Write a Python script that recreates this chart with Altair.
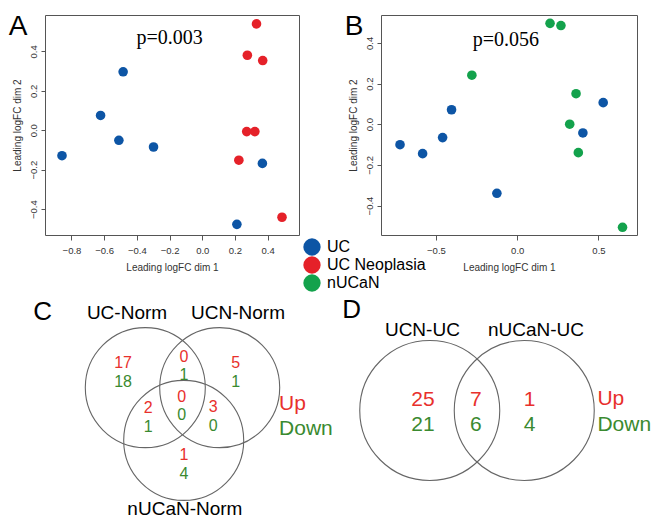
import altair as alt
import pandas as pd

# ---------------- data ----------------
groups = ["UC", "UC Neoplasia", "nUCaN"]
group_colors = ["#0d55a5", "#e52129", "#13a24c"]

# Panel A (UC vs UC Neoplasia)
a_uc_x = [-0.858, -0.622, -0.484, -0.510, -0.298, 0.368, 0.212]
a_uc_y = [-0.129, 0.075, 0.296, -0.051, -0.085, -0.168, -0.477]
a_ucn_x = [0.332, 0.276, 0.370, 0.272, 0.322, 0.224, 0.488]
a_ucn_y = [0.539, 0.380, 0.353, -0.007, -0.007, -0.152, -0.441]
a_p_value = "p=0.003"
a_x_ticks = [-0.8, -0.6, -0.4, -0.2, 0.0, 0.2, 0.4]
a_y_ticks = [-0.4, -0.2, 0.0, 0.2, 0.4]

# Panel B (UC vs nUCaN)
b_uc_x = [-0.721, -0.582, -0.459, -0.404, -0.125, 0.404, 0.529]
b_uc_y = [-0.101, -0.145, -0.066, 0.071, -0.340, -0.043, 0.106]
b_nucan_x = [0.202, 0.269, -0.279, 0.362, 0.323, 0.376, 0.648]
b_nucan_y = [0.496, 0.485, 0.241, 0.150, 0.000, -0.140, -0.507]
b_p_value = "p=0.056"
b_x_ticks = [-0.5, 0.0, 0.5]
b_y_ticks = [-0.4, -0.2, 0.0, 0.2, 0.4]

# Panel C (three-way Venn)
c_sets = ["UC-Norm", "UCN-Norm", "nUCaN-Norm"]
c_up = [17, 0, 5, 0, 2, 3, 1]
c_down = [18, 1, 1, 0, 1, 0, 4]

# Panel D (two-way Venn)
d_sets = ["UCN-UC", "nUCaN-UC"]
d_up = [25, 7, 1]
d_down = [21, 6, 4]

key_labels = ["Up", "Down"]
panel_letters = ["A", "B", "C", "D"]

# ---------------- styling / layout ----------------
FONT = "Liberation Sans"
SERIF = "Liberation Serif"
UP_COLOR = "#e8302c"
DOWN_COLOR = "#3a8a30"
FRAME = "#555555"

WA, WB, H_TOP, H_BOT = 254, 256, 220, 218
COL_GAP, ROW_GAP = 82, 64

# Venn geometry in circle-radius units (y up)
c_k, c_origin = 60, (137.5, 106)
c_circles = [(-0.62, 0.29), (0.62, 0.29), (0.02, -0.59)]
c_regions = [(-0.99, 0.54), (0.025, 0.65), (0.887, 0.54), (-0.013, -0.02),
             (-0.57, -0.21), (0.51, -0.19), (0.025, -0.99)]
c_pair = 0.152
c_set_pos = [(-0.925, 1.44), (0.925, 1.43), (0.04, -1.83)]
c_key = (1.61, 0.02, -0.395)
c_letter = (-2.33, 1.55)

d_k, d_origin = 70, (96, 111.5)
d_circles = [(-0.675, 0.0), (0.675, 0.0)]
d_region_x = [-0.773, -0.018, 0.751]
d_up_y, d_down_y = 0.147, -0.21
d_set_pos = [(-0.78, 1.07), (0.843, 1.07)]
d_key = (1.72, 0.165, -0.207)
d_letter = (-1.79, 1.43)

color_scale = alt.Scale(domain=groups, range=group_colors)
legend = alt.Legend(orient="none", legendX=258, legendY=223, title=None,
                    symbolType="circle", symbolSize=300, symbolStrokeWidth=0,
                    symbolOpacity=1, labelFontSize=16, labelFont=FONT,
                    labelColor="black", labelOffset=6, rowPadding=0, padding=0)


def axis_x(ticks):
    return alt.Axis(values=ticks, format=".1f", title="Leading logFC dim 1",
                    grid=False, domain=False, tickSize=5, tickColor=FRAME,
                    labelFont=FONT, labelFontSize=9.5, labelColor="#333",
                    labelPadding=5, labelFlush=False, labelOverlap=False,
                    titleFont=FONT, titleFontSize=10, titleFontWeight="normal",
                    titleColor="#333", titlePadding=8)


def axis_y(ticks):
    return alt.Axis(values=ticks, format=".1f", title="Leading logFC dim 2",
                    grid=False, domain=False, tickSize=4, tickColor=FRAME,
                    labelFont=FONT, labelFontSize=9.5, labelColor="#333",
                    labelAngle=270, labelAlign="center", labelBaseline="bottom",
                    labelPadding=3, labelFlush=False, labelOverlap=False,
                    titleFont=FONT, titleFontSize=10, titleFontWeight="normal",
                    titleColor="#333", titlePadding=6)


def scatter(xs1, ys1, g1, xs2, ys2, g2, xdom, ydom, xticks, yticks, w,
            ptext, pxy, letter):
    df = pd.DataFrame({"x": xs1 + xs2, "y": ys1 + ys2,
                       "group": [g1] * len(xs1) + [g2] * len(xs2)})
    xsc = alt.Scale(domain=xdom, nice=False, zero=False)
    ysc = alt.Scale(domain=ydom, nice=False, zero=False)
    xe = alt.X("x:Q", scale=xsc, axis=axis_x(xticks))
    ye = alt.Y("y:Q", scale=ysc, axis=axis_y(yticks))
    pts = alt.Chart(df).mark_circle(size=92, opacity=1).encode(
        x=xe, y=ye,
        color=alt.Color("group:N", scale=color_scale, legend=legend))
    ptxt = alt.Chart(pd.DataFrame({"x": [pxy[0]], "y": [pxy[1]], "t": [ptext]})).mark_text(
        font=SERIF, fontSize=20, align="center", baseline="alphabetic", color="black"
    ).encode(x=xe, y=ye, text="t:N")
    lett = alt.Chart(pd.DataFrame({"t": [letter]})).mark_text(
        font=FONT, fontSize=28, align="center", baseline="alphabetic", color="black"
    ).encode(x=alt.value(-27), y=alt.value(20), text="t:N")
    return alt.layer(pts, ptxt, lett).properties(
        width=w, height=H_TOP,
        view=alt.ViewBackground(stroke=FRAME, strokeWidth=1))


A = scatter(a_uc_x, a_uc_y, "UC", a_ucn_x, a_ucn_y, "UC Neoplasia",
            [-0.962, 0.592], [-0.531, 0.584], a_x_ticks, a_y_ticks, WA,
            a_p_value, (-0.2, 0.435), panel_letters[0])
B = scatter(b_uc_x, b_uc_y, "UC", b_nucan_x, b_nucan_y, "nUCaN",
            [-0.838, 0.737], [-0.545, 0.537], b_x_ticks, b_y_ticks, WB,
            b_p_value, (-0.07, 0.384), panel_letters[1])


def venn_scales(k, origin, w, h):
    ox, oy = origin
    xd = [-ox / k, (w - ox) / k]
    yd = [-(h - oy) / k, oy / k]
    xe = alt.X("x:Q", scale=alt.Scale(domain=xd, nice=False, zero=False), axis=None)
    ye = alt.Y("y:Q", scale=alt.Scale(domain=yd, nice=False, zero=False), axis=None)
    return xe, ye


def text_layer(df, xe, ye, size, color, align="center", baseline="middle"):
    return alt.Chart(df).mark_text(font=FONT, fontSize=size, color=color,
                                   align=align, baseline=baseline).encode(
        x=xe, y=ye, text="t:N")


# ---- C ----
cxe, cye = venn_scales(c_k, c_origin, WA, H_BOT)
c_circ = alt.Chart(pd.DataFrame({"x": [p[0] for p in c_circles],
                                 "y": [p[1] for p in c_circles]})).mark_point(
    shape="circle", filled=False, stroke="#666", strokeWidth=1.1, opacity=1,
    size=(2 * c_k) ** 2).encode(x=cxe, y=cye)
c_up_df = pd.DataFrame({"x": [p[0] for p in c_regions],
                        "y": [p[1] + c_pair for p in c_regions],
                        "t": [str(v) for v in c_up]})
c_dn_df = pd.DataFrame({"x": [p[0] for p in c_regions],
                        "y": [p[1] - c_pair for p in c_regions],
                        "t": [str(v) for v in c_down]})
c_set_df = pd.DataFrame({"x": [p[0] for p in c_set_pos],
                         "y": [p[1] for p in c_set_pos], "t": c_sets})
c_key_up = pd.DataFrame({"x": [c_key[0]], "y": [c_key[1]], "t": [key_labels[0]]})
c_key_dn = pd.DataFrame({"x": [c_key[0]], "y": [c_key[2]], "t": [key_labels[1]]})
c_let = pd.DataFrame({"x": [c_letter[0]], "y": [c_letter[1]], "t": [panel_letters[2]]})
C = alt.layer(
    c_circ,
    text_layer(c_up_df, cxe, cye, 16, UP_COLOR),
    text_layer(c_dn_df, cxe, cye, 16, DOWN_COLOR),
    text_layer(c_set_df, cxe, cye, 19, "black", baseline="alphabetic"),
    text_layer(c_key_up, cxe, cye, 21, UP_COLOR, align="left"),
    text_layer(c_key_dn, cxe, cye, 21, DOWN_COLOR, align="left"),
    text_layer(c_let, cxe, cye, 26, "black"),
).properties(width=WA, height=H_BOT, view=alt.ViewBackground(strokeOpacity=0))

# ---- D ----
dxe, dye = venn_scales(d_k, d_origin, WB, H_BOT)
d_circ = alt.Chart(pd.DataFrame({"x": [p[0] for p in d_circles],
                                 "y": [p[1] for p in d_circles]})).mark_point(
    shape="circle", filled=False, stroke="#666", strokeWidth=1.1, opacity=1,
    size=(2 * d_k) ** 2).encode(x=dxe, y=dye)
d_up_df = pd.DataFrame({"x": d_region_x, "y": [d_up_y] * 3, "t": [str(v) for v in d_up]})
d_dn_df = pd.DataFrame({"x": d_region_x, "y": [d_down_y] * 3, "t": [str(v) for v in d_down]})
d_set_df = pd.DataFrame({"x": [p[0] for p in d_set_pos],
                         "y": [p[1] for p in d_set_pos], "t": d_sets})
d_key_up = pd.DataFrame({"x": [d_key[0]], "y": [d_key[1]], "t": [key_labels[0]]})
d_key_dn = pd.DataFrame({"x": [d_key[0]], "y": [d_key[2]], "t": [key_labels[1]]})
d_let = pd.DataFrame({"x": [d_letter[0]], "y": [d_letter[1]], "t": [panel_letters[3]]})
D = alt.layer(
    d_circ,
    text_layer(d_up_df, dxe, dye, 21, UP_COLOR),
    text_layer(d_dn_df, dxe, dye, 21, DOWN_COLOR),
    text_layer(d_set_df, dxe, dye, 19, "black", baseline="alphabetic"),
    text_layer(d_key_up, dxe, dye, 21, UP_COLOR, align="left"),
    text_layer(d_key_dn, dxe, dye, 21, DOWN_COLOR, align="left"),
    text_layer(d_let, dxe, dye, 26, "black"),
).properties(width=WB, height=H_BOT, view=alt.ViewBackground(strokeOpacity=0))

chart = alt.concat(
    A, B, C, D, columns=2, bounds="flush",
    spacing={"row": ROW_GAP, "column": COL_GAP},
).properties(padding={"top": 4, "left": 0, "right": 0, "bottom": 0}).configure(
    font=FONT, background="white")

chart.save("out.html", embed_options={"renderer": "svg", "actions": False})
